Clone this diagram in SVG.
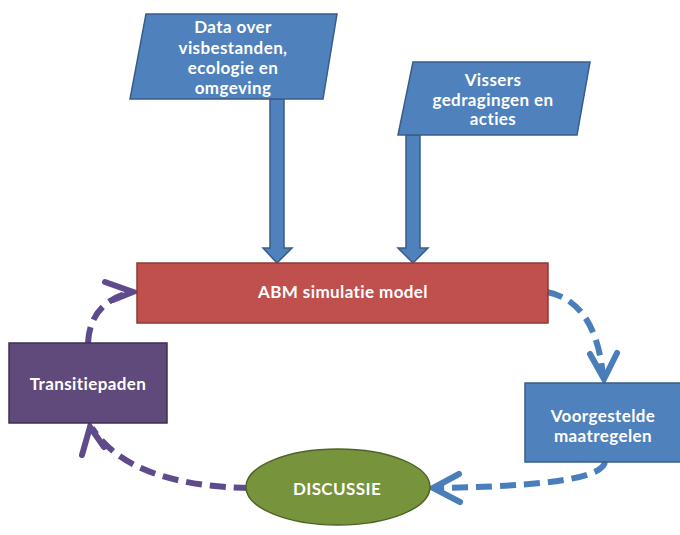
<svg xmlns="http://www.w3.org/2000/svg" width="680" height="535" viewBox="0 0 680 535">
<style>
text{font-family:Lato,"Open Sans","Liberation Sans",sans-serif;font-weight:bold;font-size:17px;letter-spacing:0.4px;fill:#fff;text-anchor:middle}
.blue{fill:#4F81BD;stroke:#385D8A;stroke-width:1.5}
.dashb{fill:none;stroke:#4A7EBB;stroke-width:6;stroke-dasharray:16 8}
.headb{fill:none;stroke:#4A7EBB;stroke-width:6;stroke-linecap:round;stroke-linejoin:miter}
.dashp{fill:none;stroke:#5F4B8B;stroke-width:6;stroke-dasharray:16 8}
.headp{fill:none;stroke:#5F4B8B;stroke-width:6;stroke-linecap:round;stroke-linejoin:miter}
</style>
<rect width="680" height="535" fill="#fff"/>
<g id="connectors">
<path class="blue" d="M270 99 V248 H263 L277 263 L292 248 H284 V99 Z"/>
<path class="blue" d="M406 135 V248 H398 L413 263 L428 248 H420 V135 Z"/>
<path class="dashb" d="M547 292 Q596 302 603 376"/>
<path class="headb" d="M590 354 L604 379 L617 353"/>
<path class="dashb" d="M605 461 Q605 486 434 488"/>
<path class="headb" d="M459 474 L433 488 L460 502"/>
<path class="dashp" d="M250 488 Q130 486 92 428"/>
<path class="headp" d="M82 455 L90 427 L104 447"/>
<path class="dashp" d="M88 343 Q90 302 132 292"/>
<path class="headp" d="M105 282 L133 292 L113 300"/>
</g>
<g id="data">
<polygon class="blue" points="146,14 337,14 323,99 130,99"/>
<text x="233" y="33">Data over</text>
<text x="233" y="54">visbestanden,</text>
<text x="233" y="74">ecologie en</text>
<text x="233" y="94">omgeving</text>
</g>
<g id="vissers">
<polygon class="blue" points="413,62 590,62 577,135 398,135"/>
<text x="493" y="86">Vissers</text>
<text x="493" y="106">gedragingen en</text>
<text x="493" y="125">acties</text>
</g>
<g id="abm">
<rect x="137" y="263" width="411" height="60" fill="#C0504D" stroke="#8C3836" stroke-width="1.5"/>
<text x="343" y="298">ABM simulatie model</text>
</g>
<g id="voorgestelde">
<rect class="blue" x="525" y="383" width="156" height="79"/>
<text x="603" y="422">Voorgestelde</text>
<text x="603" y="442">maatregelen</text>
</g>
<g id="discussie">
<ellipse cx="338" cy="487" rx="92" ry="38" fill="#77933C" stroke="#4F6228" stroke-width="1.5"/>
<text x="337" y="495">DISCUSSIE</text>
</g>
<g id="transitiepaden">
<rect x="9" y="343" width="158" height="80" fill="#604A7B" stroke="#3F3151" stroke-width="1.5"/>
<text x="88" y="390">Transitiepaden</text>
</g>
</svg>
